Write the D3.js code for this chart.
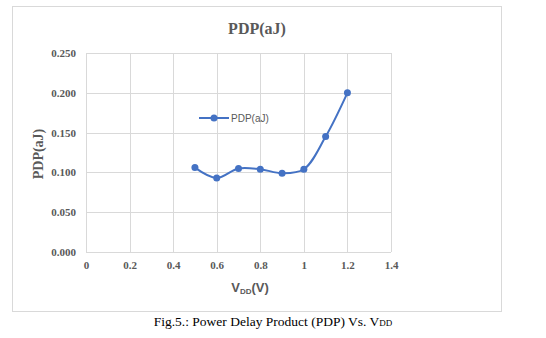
<!DOCTYPE html>
<html><head><meta charset="utf-8">
<script src="https://cdn.jsdelivr.net/npm/d3@7"></script>
<style>body{margin:0;background:#fff}</style>
</head><body>
<svg id="c" width="546" height="338"></svg>
<script>
const vdd = [0.5, 0.6, 0.7, 0.8, 0.9, 1.0, 1.1, 1.2];
const pdp = [0.106, 0.093, 0.105, 0.104, 0.099, 0.104, 0.145, 0.200];
const xTicks = [0, 0.2, 0.4, 0.6, 0.8, 1.0, 1.2, 1.4];
const yTicks = [0, 0.05, 0.1, 0.15, 0.2, 0.25];
const seriesName = "PDP(aJ)";

const svg = d3.select("#c");
const gray = "#595959", grid = "#d9d9d9", blue = "#4472C4";
svg.append("rect").attr("x", 12.5).attr("y", 6.5).attr("width", 489).attr("height", 305)
  .attr("fill", "#fff").attr("stroke", grid);

const x = d3.scaleLinear().domain([0, 1.4]).range([86, 391]);
const y = d3.scaleLinear().domain([0, 0.25]).range([252, 53]);

const g = svg.append("g");
g.selectAll(".vg").data(xTicks).join("line")
  .attr("x1", d => Math.round(x(d)) + 0.5).attr("x2", d => Math.round(x(d)) + 0.5)
  .attr("y1", y(0.25)).attr("y2", y(0)).attr("stroke", grid);
g.selectAll(".hg").data(yTicks).join("line")
  .attr("y1", d => Math.round(y(d)) + 0.5).attr("y2", d => Math.round(y(d)) + 0.5)
  .attr("x1", x(0)).attr("x2", x(1.4)).attr("stroke", grid);

const yAxis = d3.axisLeft(y).tickValues(yTicks).tickFormat(d3.format(".3f")).tickSize(0).tickPadding(10);
const ya = svg.append("g").attr("transform", `translate(${x(0)},0)`).call(yAxis);
ya.select(".domain").remove();
ya.selectAll("text").attr("font-family", "Liberation Serif").attr("font-weight", "bold")
  .attr("font-size", 11).attr("fill", gray);

const xAxis = d3.axisBottom(x).tickValues(xTicks).tickFormat(d => String(+d.toFixed(1))).tickSize(0).tickPadding(9);
const xa = svg.append("g").attr("transform", `translate(0,${y(0)})`).call(xAxis);
xa.select(".domain").remove();
xa.selectAll("text").attr("font-family", "Liberation Serif").attr("font-weight", "bold")
  .attr("font-size", 11).attr("fill", gray);

const data = vdd.map((v, i) => [v, pdp[i]]);
svg.append("path").datum(data)
  .attr("d", d3.line().x(d => x(d[0])).y(d => y(d[1])).curve(d3.curveCatmullRom.alpha(0.5)))
  .attr("fill", "none").attr("stroke", blue).attr("stroke-width", 2);
svg.selectAll(".pt").data(data).join("circle")
  .attr("cx", d => x(d[0])).attr("cy", d => y(d[1])).attr("r", 3.5).attr("fill", blue);

// legend
svg.append("line").attr("x1", 199).attr("x2", 229).attr("y1", 118).attr("y2", 118)
  .attr("stroke", blue).attr("stroke-width", 2);
svg.append("circle").attr("cx", 214).attr("cy", 118).attr("r", 3.5).attr("fill", blue);
svg.append("text").attr("x", 231).attr("y", 122).text(seriesName)
  .attr("font-family", "Liberation Sans").attr("font-size", 10).attr("fill", gray);

// title
svg.append("text").attr("x", 257).attr("y", 34).attr("text-anchor", "middle").text("PDP(aJ)")
  .attr("font-family", "Liberation Serif").attr("font-weight", "bold").attr("font-size", 16).attr("fill", gray);

// y title
svg.append("text").attr("transform", `translate(43,154) rotate(-90)`).attr("text-anchor", "middle")
  .text("PDP(aJ)").attr("font-family", "Liberation Serif").attr("font-weight", "bold")
  .attr("font-size", 14).attr("fill", gray);

// x title
const xt = svg.append("text").attr("x", 250).attr("y", 292).attr("text-anchor", "middle")
  .attr("font-family", "Liberation Sans").attr("font-weight", "bold").attr("font-size", 13).attr("fill", gray);
xt.append("tspan").text("V");
xt.append("tspan").text("DD").attr("font-size", 8).attr("dy", 2);
xt.append("tspan").text("(V)").attr("dy", -2);

// caption
const cap = svg.append("text").attr("x", 273).attr("y", 326).attr("text-anchor", "middle")
  .attr("font-family", "Liberation Serif").attr("font-size", 13.5).attr("fill", "#000");
cap.append("tspan").text("Fig.5.: Power Delay Product (PDP) Vs. V");
cap.append("tspan").text("DD").attr("font-size", 9);
</script>
</body></html>
